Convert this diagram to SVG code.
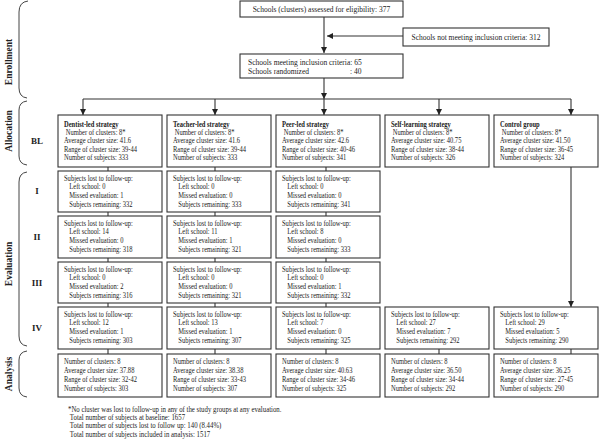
<svg xmlns="http://www.w3.org/2000/svg" width="600" height="440" viewBox="0 0 600 440">
<style>
rect{fill:#fff;stroke:#333;stroke-width:1.1}
text{font-family:"Liberation Serif","Times New Roman",serif;font-size:7.4px;fill:#222}
.top{font-size:7.5px}
.b{font-weight:bold}
.lab{font-weight:bold;font-size:9px;text-anchor:middle}
.rl{font-weight:bold;font-size:9.5px;text-anchor:middle}
.c line,.c path{stroke:#333;stroke-width:1.1;fill:none}
.br{stroke:#444;stroke-width:1;fill:none}
</style>
<defs>
<marker id="ah" viewBox="0 0 10 10" refX="10" refY="5" markerWidth="6" markerHeight="6" markerUnits="userSpaceOnUse" orient="auto"><path d="M0,0L10,5L0,10z" fill="#222"/></marker>
</defs>
<g id="side">
<path class="br" d="M28,1Q19,2 19,12L19,88Q19,97 27,98"/>
<path class="br" d="M27,101Q19,102 19,110L19,156Q19,164 27,165"/>
<path class="br" d="M27,172Q19,173 19,182L19,336Q19,345 27,346"/>
<path class="br" d="M27,351Q19,352 19,360L19,388Q19,396 27,397"/>
<text class="rl" transform="translate(11.5,62) rotate(-90)">Enrollment</text>
<text class="rl" transform="translate(11.5,131) rotate(-90)">Allocation</text>
<text class="rl" transform="translate(11.5,264) rotate(-90)">Evaluation</text>
<text class="rl" transform="translate(11.5,374) rotate(-90)">Analysis</text>
<text class="lab" x="37" y="144">BL</text>
<text class="lab" x="37" y="194">I</text>
<text class="lab" x="37" y="240">II</text>
<text class="lab" x="37" y="286">III</text>
<text class="lab" x="37" y="331">IV</text>
</g>
<g id="connectors" class="c">
<line x1="324" y1="17" x2="324" y2="53" marker-end="url(#ah)"/>
<line x1="403" y1="36" x2="327" y2="36" marker-end="url(#ah)"/>
<line x1="324" y1="78" x2="324" y2="99" marker-end="url(#ah)"/>
<line x1="83" y1="99" x2="571" y2="99"/>
<line x1="83" y1="99" x2="83" y2="115" marker-end="url(#ah)"/>
<line x1="215" y1="99" x2="215" y2="115" marker-end="url(#ah)"/>
<line x1="324" y1="99" x2="324" y2="115" marker-end="url(#ah)"/>
<line x1="439" y1="99" x2="439" y2="115" marker-end="url(#ah)"/>
<line x1="571" y1="99" x2="571" y2="115" marker-end="url(#ah)"/>
<line x1="571" y1="167" x2="571" y2="307" marker-end="url(#ah)"/>
<path d="M108,167V171M215,167V171M326,167V171M108,212V216M215,212V216M326,212V216M108,258V262M215,258V262M326,258V262M108,303V307M215,303V307M326,303V307M108,349V354M215,349V354M326,349V354M439,349V354M571,349V354"/>
</g>
<g id="assessed"><rect x="240" y="1" width="163" height="16"/><text class="top" x="321.5" y="12" text-anchor="middle">Schools (clusters) assessed for eligibility:  377</text></g>
<g id="excluded"><rect x="403" y="28" width="146" height="18"/><text class="top" x="476" y="39.5" text-anchor="middle">Schools not meeting inclusion criteria:  312</text></g>
<g id="randomized"><rect x="240" y="54" width="163" height="24"/><text class="top" x="248" y="64.5">Schools meeting inclusion criteria:  65</text><text class="top" x="248" y="74">Schools randomized</text><text class="top" x="350" y="74">: 40</text></g>

<g id="bl-dentist"><rect x="58" y="115" width="104" height="52"/><text transform="translate(64,126.5) scale(0.88,1)"><tspan class="b" x="0" y="0">Dentist-led strategy</tspan><tspan x="2" y="8.4">Number of clusters: 8*</tspan><tspan x="0" y="16.8">Average cluster size:  41.6</tspan><tspan x="0" y="25.2">Range of cluster size: 39-44</tspan><tspan x="0" y="33.6">Number of subjects: 333</tspan></text></g>
<g id="bl-teacher"><rect x="167" y="115" width="104" height="52"/><text transform="translate(173,126.5) scale(0.88,1)"><tspan class="b" x="0" y="0">Teacher-led strategy</tspan><tspan x="2" y="8.4">Number of clusters: 8*</tspan><tspan x="0" y="16.8">Average cluster size:  41.6</tspan><tspan x="0" y="25.2">Range of cluster size: 39-44</tspan><tspan x="0" y="33.6">Number of subjects: 333</tspan></text></g>
<g id="bl-peer"><rect x="276" y="115" width="104" height="52"/><text transform="translate(282,126.5) scale(0.88,1)"><tspan class="b" x="0" y="0">Peer-led strategy</tspan><tspan x="2" y="8.4">Number of clusters: 8*</tspan><tspan x="0" y="16.8">Average cluster size:  42.6</tspan><tspan x="0" y="25.2">Range of cluster size: 40-46</tspan><tspan x="0" y="33.6">Number of subjects: 341</tspan></text></g>
<g id="bl-self"><rect x="385" y="115" width="104" height="52"/><text transform="translate(391,126.5) scale(0.88,1)"><tspan class="b" x="0" y="0">Self-learning strategy</tspan><tspan x="2" y="8.4">Number of clusters: 8*</tspan><tspan x="0" y="16.8">Average cluster size:  40.75</tspan><tspan x="0" y="25.2">Range of cluster size: 38-44</tspan><tspan x="0" y="33.6">Number of subjects: 326</tspan></text></g>
<g id="bl-control"><rect x="494" y="115" width="104" height="52"/><text transform="translate(500,126.5) scale(0.88,1)"><tspan class="b" x="0" y="0">Control group</tspan><tspan x="2" y="8.4">Number of clusters: 8*</tspan><tspan x="0" y="16.8">Average cluster size:  41.50</tspan><tspan x="0" y="25.2">Range of cluster size: 36-45</tspan><tspan x="0" y="33.6">Number of subjects: 324</tspan></text></g>

<g id="i-dentist"><rect x="58" y="171" width="104" height="41"/><text transform="translate(64,180.5) scale(0.88,1)"><tspan x="0" y="0">Subjects lost to follow-up:</tspan><tspan x="6" y="9">Left school: 0</tspan><tspan x="6" y="18">Missed evaluation: 1</tspan><tspan x="6" y="27">Subjects remaining: 332</tspan></text></g>
<g id="i-teacher"><rect x="167" y="171" width="104" height="41"/><text transform="translate(173,180.5) scale(0.88,1)"><tspan x="0" y="0">Subjects lost to follow-up:</tspan><tspan x="6" y="9">Left school: 0</tspan><tspan x="6" y="18">Missed evaluation: 0</tspan><tspan x="6" y="27">Subjects remaining: 333</tspan></text></g>
<g id="i-peer"><rect x="276" y="171" width="104" height="41"/><text transform="translate(282,180.5) scale(0.88,1)"><tspan x="0" y="0">Subjects lost to follow-up:</tspan><tspan x="6" y="9">Left school: 0</tspan><tspan x="6" y="18">Missed evaluation: 0</tspan><tspan x="6" y="27">Subjects remaining: 341</tspan></text></g>

<g id="ii-dentist"><rect x="58" y="216" width="104" height="42"/><text transform="translate(64,225.5) scale(0.88,1)"><tspan x="0" y="0">Subjects lost to follow-up:</tspan><tspan x="6" y="9">Left school: 14</tspan><tspan x="6" y="18">Missed evaluation: 0</tspan><tspan x="6" y="27">Subjects remaining: 318</tspan></text></g>
<g id="ii-teacher"><rect x="167" y="216" width="104" height="42"/><text transform="translate(173,225.5) scale(0.88,1)"><tspan x="0" y="0">Subjects lost to follow-up:</tspan><tspan x="6" y="9">Left school: 11</tspan><tspan x="6" y="18">Missed evaluation: 1</tspan><tspan x="6" y="27">Subjects remaining: 321</tspan></text></g>
<g id="ii-peer"><rect x="276" y="216" width="104" height="42"/><text transform="translate(282,225.5) scale(0.88,1)"><tspan x="0" y="0">Subjects lost to follow-up:</tspan><tspan x="6" y="9">Left school: 8</tspan><tspan x="6" y="18">Missed evaluation: 0</tspan><tspan x="6" y="27">Subjects remaining: 333</tspan></text></g>

<g id="iii-dentist"><rect x="58" y="262" width="104" height="41"/><text transform="translate(64,271.5) scale(0.88,1)"><tspan x="0" y="0">Subjects lost to follow-up:</tspan><tspan x="6" y="9">Left school: 0</tspan><tspan x="6" y="18">Missed evaluation: 2</tspan><tspan x="6" y="27">Subjects remaining: 316</tspan></text></g>
<g id="iii-teacher"><rect x="167" y="262" width="104" height="41"/><text transform="translate(173,271.5) scale(0.88,1)"><tspan x="0" y="0">Subjects lost to follow-up:</tspan><tspan x="6" y="9">Left school: 0</tspan><tspan x="6" y="18">Missed evaluation: 0</tspan><tspan x="6" y="27">Subjects remaining: 321</tspan></text></g>
<g id="iii-peer"><rect x="276" y="262" width="104" height="41"/><text transform="translate(282,271.5) scale(0.88,1)"><tspan x="0" y="0">Subjects lost to follow-up:</tspan><tspan x="6" y="9">Left school: 0</tspan><tspan x="6" y="18">Missed evaluation: 1</tspan><tspan x="6" y="27">Subjects remaining: 332</tspan></text></g>

<g id="iv-dentist"><rect x="58" y="307" width="104" height="42"/><text transform="translate(64,316.5) scale(0.88,1)"><tspan x="0" y="0">Subjects lost to follow-up:</tspan><tspan x="6" y="9">Left school: 12</tspan><tspan x="6" y="18">Missed evaluation: 1</tspan><tspan x="6" y="27">Subjects remaining: 303</tspan></text></g>
<g id="iv-teacher"><rect x="167" y="307" width="104" height="42"/><text transform="translate(173,316.5) scale(0.88,1)"><tspan x="0" y="0">Subjects lost to follow-up:</tspan><tspan x="6" y="9">Left school: 13</tspan><tspan x="6" y="18">Missed evaluation: 1</tspan><tspan x="6" y="27">Subjects remaining: 307</tspan></text></g>
<g id="iv-peer"><rect x="276" y="307" width="104" height="42"/><text transform="translate(282,316.5) scale(0.88,1)"><tspan x="0" y="0">Subjects lost to follow-up:</tspan><tspan x="6" y="9">Left school: 7</tspan><tspan x="6" y="18">Missed evaluation: 0</tspan><tspan x="6" y="27">Subjects remaining: 325</tspan></text></g>
<g id="iv-self"><rect x="385" y="307" width="104" height="42"/><text transform="translate(391,316.5) scale(0.88,1)"><tspan x="0" y="0">Subjects lost to follow-up:</tspan><tspan x="6" y="9">Left school: 27</tspan><tspan x="6" y="18">Missed evaluation: 7</tspan><tspan x="6" y="27">Subjects remaining: 292</tspan></text></g>
<g id="iv-control"><rect x="494" y="307" width="104" height="42"/><text transform="translate(500,316.5) scale(0.88,1)"><tspan x="0" y="0">Subjects lost to follow-up:</tspan><tspan x="6" y="9">Left school: 29</tspan><tspan x="6" y="18">Missed evaluation: 5</tspan><tspan x="6" y="27">Subjects remaining: 290</tspan></text></g>

<g id="an-dentist"><rect x="58" y="354" width="104" height="43"/><text transform="translate(64,364) scale(0.88,1)"><tspan x="0" y="0">Number of clusters: 8</tspan><tspan x="0" y="9">Average cluster size:  37.88</tspan><tspan x="0" y="18">Range of cluster size: 32-42</tspan><tspan x="0" y="27">Number of subjects: 303</tspan></text></g>
<g id="an-teacher"><rect x="167" y="354" width="104" height="43"/><text transform="translate(173,364) scale(0.88,1)"><tspan x="0" y="0">Number of clusters: 8</tspan><tspan x="0" y="9">Average cluster size:  38.38</tspan><tspan x="0" y="18">Range of cluster size: 33-43</tspan><tspan x="0" y="27">Number of subjects: 307</tspan></text></g>
<g id="an-peer"><rect x="276" y="354" width="104" height="43"/><text transform="translate(282,364) scale(0.88,1)"><tspan x="0" y="0">Number of clusters: 8</tspan><tspan x="0" y="9">Average cluster size:  40.63</tspan><tspan x="0" y="18">Range of cluster size: 34-46</tspan><tspan x="0" y="27">Number of subjects: 325</tspan></text></g>
<g id="an-self"><rect x="385" y="354" width="104" height="43"/><text transform="translate(391,364) scale(0.88,1)"><tspan x="0" y="0">Number of clusters: 8</tspan><tspan x="0" y="9">Average cluster size:  36.50</tspan><tspan x="0" y="18">Range of cluster size: 34-44</tspan><tspan x="0" y="27">Number of subjects: 292</tspan></text></g>
<g id="an-control"><rect x="494" y="354" width="104" height="43"/><text transform="translate(500,364) scale(0.88,1)"><tspan x="0" y="0">Number of clusters: 8</tspan><tspan x="0" y="9">Average cluster size:  36.25</tspan><tspan x="0" y="18">Range of cluster size: 27-45</tspan><tspan x="0" y="27">Number of subjects: 290</tspan></text></g>

<g id="footnote"><text transform="translate(68,411.5) scale(0.92,1)"><tspan x="0" y="0">*No cluster was lost to follow-up in any of the study groups at any evaluation.</tspan><tspan x="2" y="8.5">Total number of subjects at baseline: 1657</tspan><tspan x="2" y="17">Total number of subjects lost to follow up: 140 (8.44%)</tspan><tspan x="2" y="25.5">Total number of subjects included in analysis: 1517</tspan></text></g>
</svg>
